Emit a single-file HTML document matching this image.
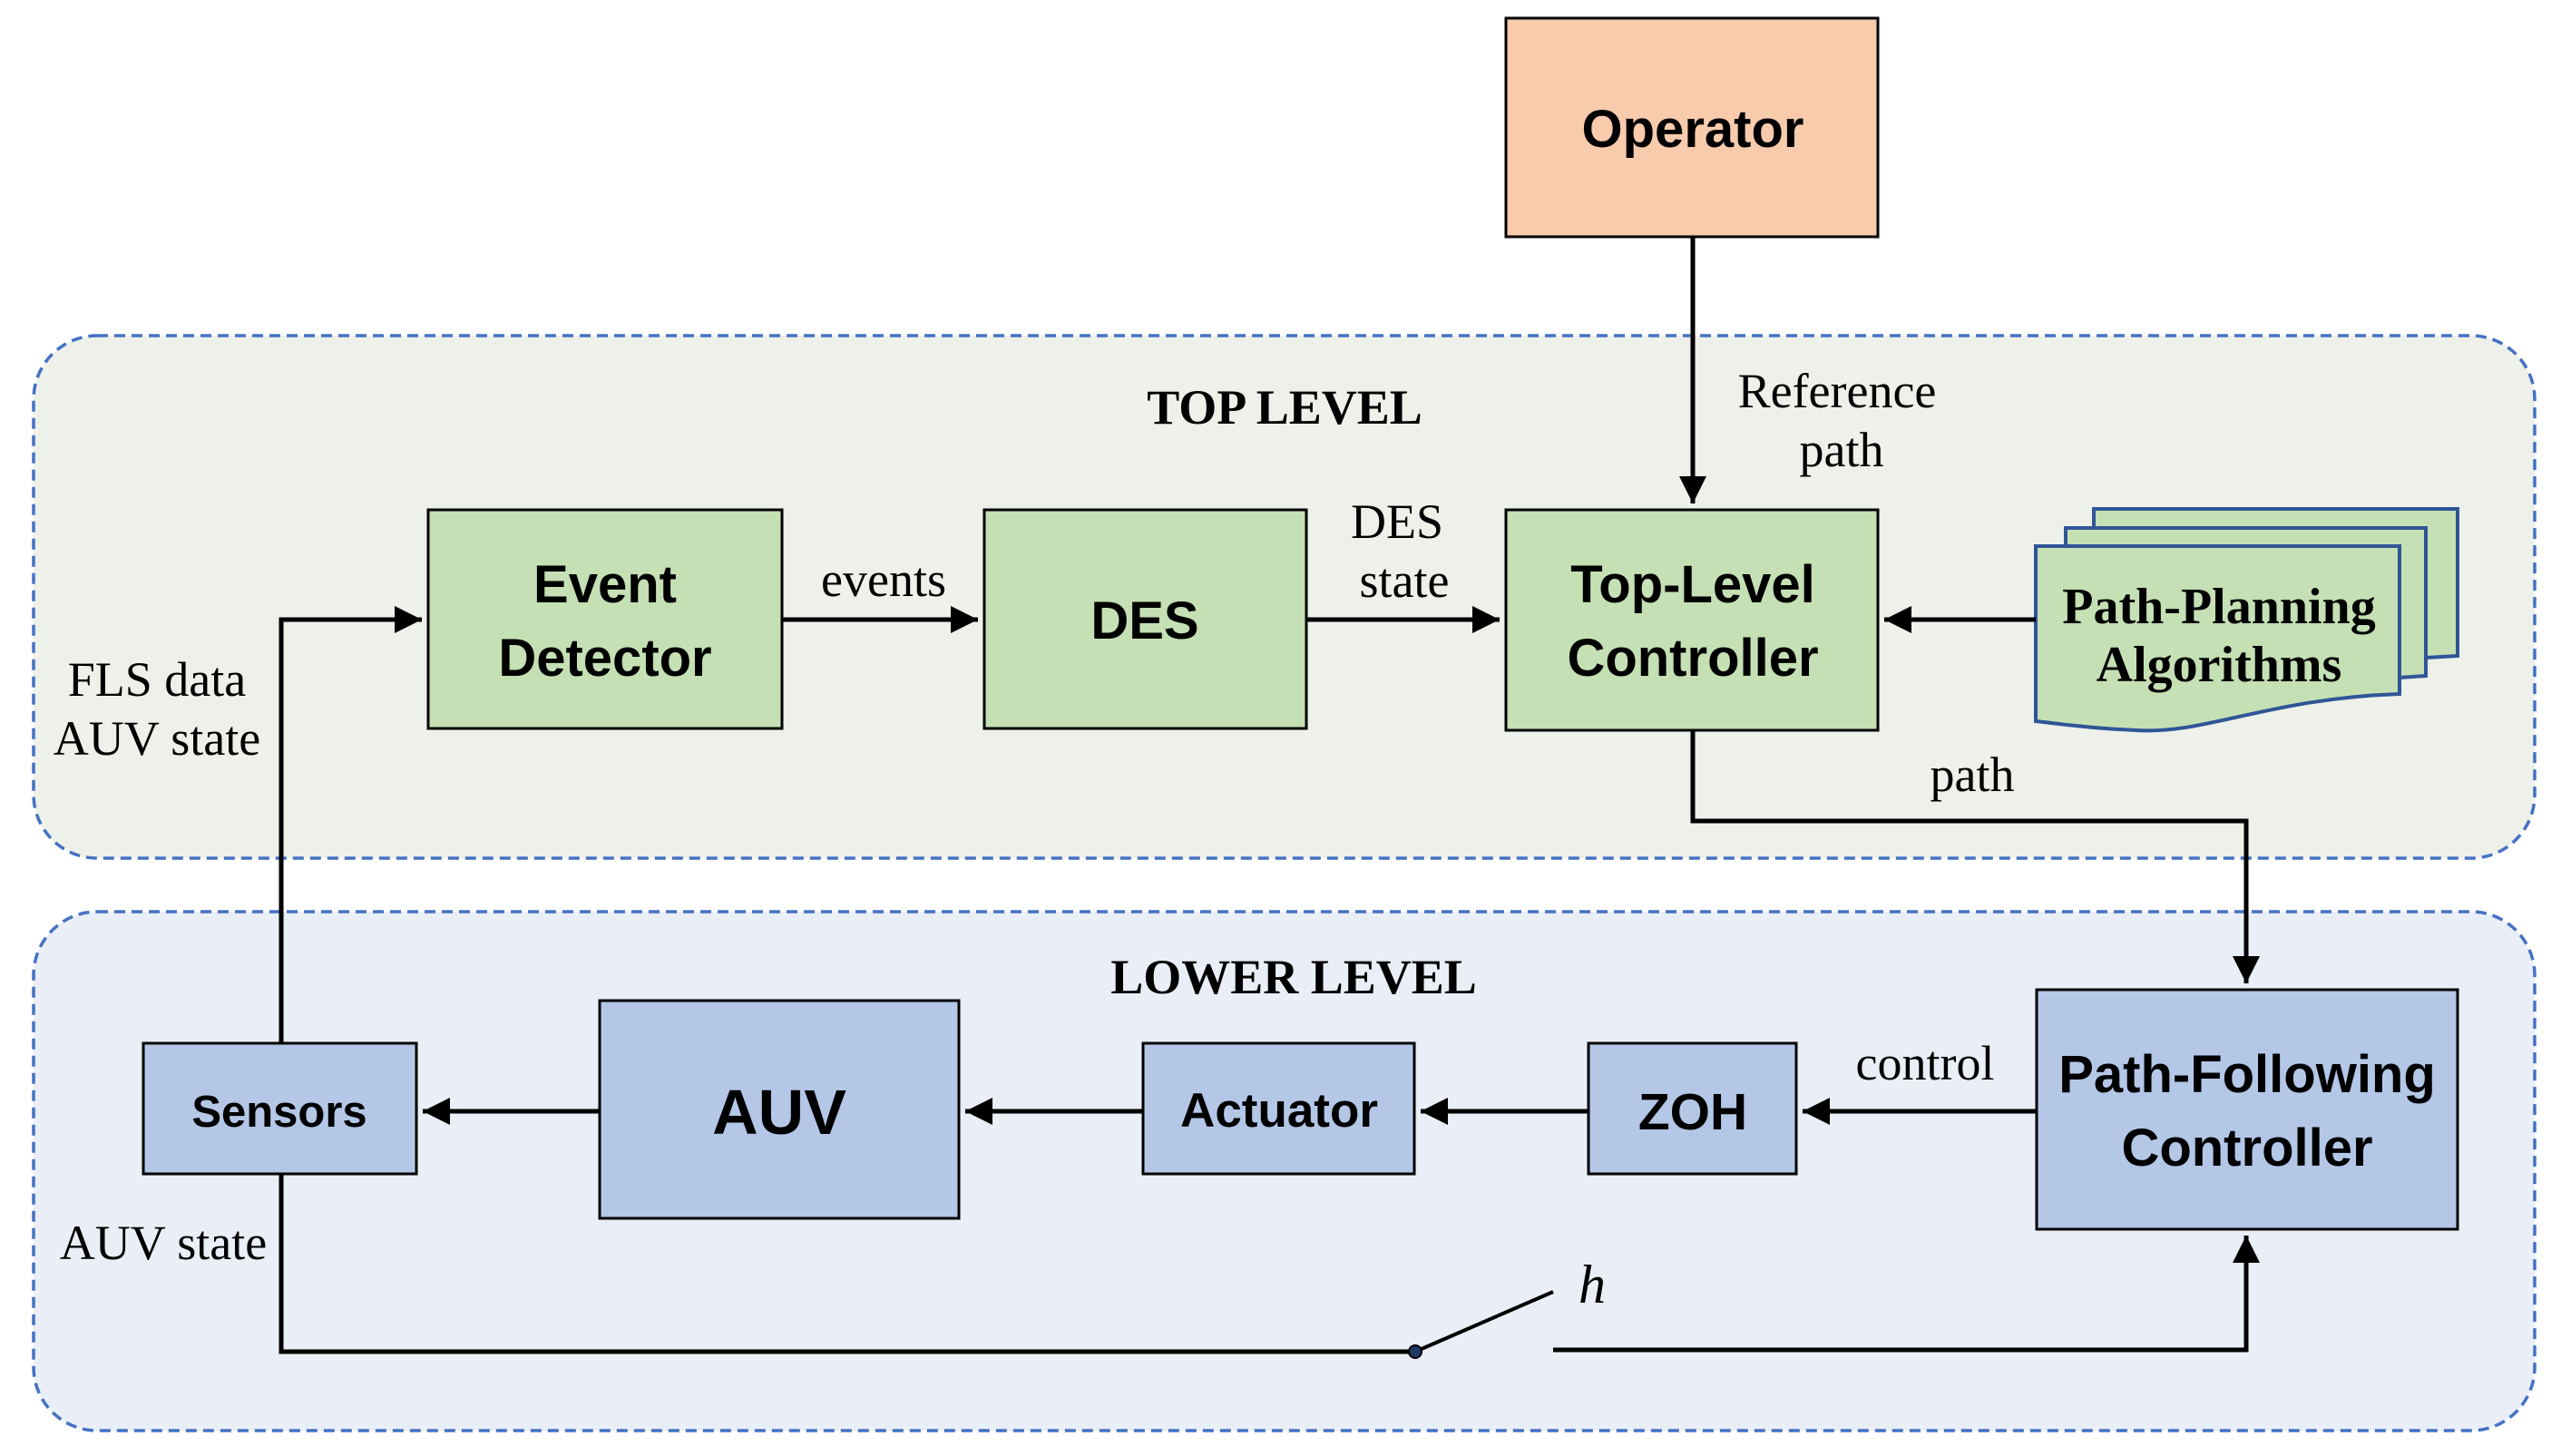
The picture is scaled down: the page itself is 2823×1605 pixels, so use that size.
<!DOCTYPE html>
<html><head><meta charset="utf-8"><style>
html,body{margin:0;padding:0;background:#fff}
</style></head><body>
<svg width="2823" height="1600" viewBox="0 0 2823 1600" xmlns="http://www.w3.org/2000/svg">
<defs>
<marker id="a" viewBox="0 0 10 10" refX="10" refY="5" markerWidth="6" markerHeight="6" markerUnits="strokeWidth" orient="auto"><path d="M0,0 L10,5 L0,10 z" fill="#000"/></marker>
</defs>
<rect x="37" y="370" width="2757" height="576" rx="70" fill="#eef0ea" stroke="#4472c4" stroke-width="3.5" stroke-dasharray="12,7"/>
<rect x="37" y="1005" width="2757" height="572" rx="70" fill="#eaeef6" stroke="#4472c4" stroke-width="3.5" stroke-dasharray="12,7"/>
<g stroke="#000" stroke-width="3">
<rect x="1660" y="20" width="410" height="241" fill="#f8cbad"/>
<rect x="472" y="562" width="390" height="241" fill="#c5e0b4"/>
<rect x="1085" y="562" width="355" height="241" fill="#c5e0b4"/>
<rect x="1660" y="562" width="410" height="243" fill="#c5e0b4"/>
<rect x="158" y="1150" width="301" height="144" fill="#b4c7e7"/>
<rect x="661" y="1103" width="396" height="240" fill="#b4c7e7"/>
<rect x="1260" y="1150" width="299" height="144" fill="#b4c7e7"/>
<rect x="1751" y="1150" width="229" height="144" fill="#b4c7e7"/>
<rect x="2245" y="1091" width="464" height="264" fill="#b4c7e7"/>
</g>
<g stroke="#2f5597" stroke-width="4" fill="#c5e0b4">
<path d="M2308,561 H2709 V723 L2674,725 V582 H2308 Z"/>
<path d="M2277,582 H2674 V745 L2645,747 V602 H2277 Z"/>
<path d="M2244,602 H2645 V765 C2500,770 2430,810 2355,805 C2305,803 2272,798 2244,795 Z"/>
</g>
<g stroke="#000" stroke-width="5" fill="none">
<path d="M1866,261 V555" marker-end="url(#a)"/>
<path d="M862,683 H1078" marker-end="url(#a)"/>
<path d="M1440,683 H1653" marker-end="url(#a)"/>
<path d="M2244,683 H2077" marker-end="url(#a)"/>
<path d="M1866,805 V905 H2476 V1084" marker-end="url(#a)"/>
<path d="M310,1150 V683 H465" marker-end="url(#a)"/>
<path d="M2245,1225 H1987" marker-end="url(#a)"/>
<path d="M1751,1225 H1566" marker-end="url(#a)"/>
<path d="M1260,1225 H1064" marker-end="url(#a)"/>
<path d="M661,1225 H466" marker-end="url(#a)"/>
<path d="M310,1294 V1490 H1560"/>
<path d="M1560,1490 L1712,1424" stroke-width="4"/>
<path d="M1712,1488 H2476 V1362" marker-end="url(#a)"/>
</g>
<circle cx="1560" cy="1490" r="7" fill="#1f3864" stroke="#000" stroke-width="2"/>
<g font-family="Liberation Sans, sans-serif" font-weight="bold" text-anchor="middle" fill="#000">
<text x="1866" y="162" font-size="58">Operator</text>
<text x="667" y="664" font-size="58">Event</text>
<text x="667" y="745" font-size="58">Detector</text>
<text x="1262" y="704" font-size="58">DES</text>
<text x="1866" y="664" font-size="58">Top-Level</text>
<text x="1866" y="745" font-size="58">Controller</text>
<text x="308" y="1242" font-size="49">Sensors</text>
<text x="859" y="1250" font-size="70">AUV</text>
<text x="1410" y="1242" font-size="53">Actuator</text>
<text x="1866" y="1245" font-size="57">ZOH</text>
<text x="2477" y="1204" font-size="58">Path-Following</text>
<text x="2477" y="1285" font-size="58">Controller</text>
</g>
<g font-family="Liberation Serif, serif" text-anchor="middle" fill="#000" font-size="54">
<text x="2446" y="687" font-weight="bold" font-size="56">Path-Planning</text>
<text x="2446" y="751" font-weight="bold" font-size="56">Algorithms</text>
<text x="1416" y="467" font-weight="bold">TOP LEVEL</text>
<text x="1426" y="1095" font-weight="bold">LOWER LEVEL</text>
<text x="2025" y="449">Reference</text>
<text x="2030" y="514">path</text>
<text x="1540" y="593">DES</text>
<text x="1548" y="658">state</text>
<text x="974" y="657">events</text>
<text x="173" y="767">FLS data</text>
<text x="173" y="832">AUV state</text>
<text x="2174" y="872">path</text>
<text x="2122" y="1190">control</text>
<text x="180" y="1388">AUV state</text>
<text x="1755" y="1436" font-style="italic" font-size="60">h</text>
</g>
</svg>
</body></html>
